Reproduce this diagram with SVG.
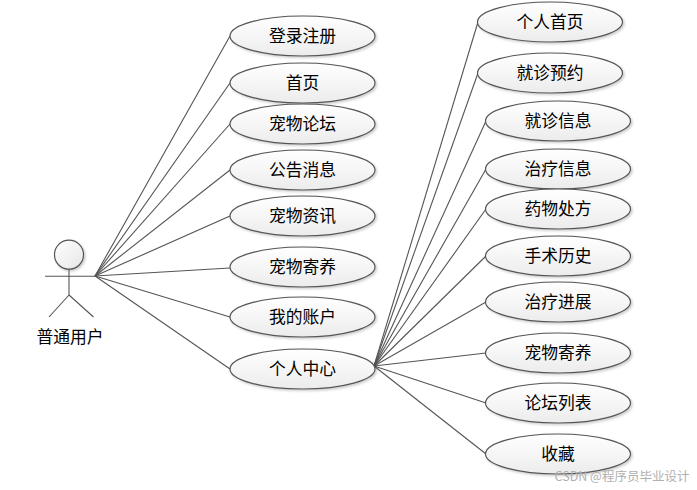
<svg xmlns="http://www.w3.org/2000/svg" width="697" height="490" viewBox="0 0 697 490">
<defs>
<linearGradient id="g" x1="0" y1="0" x2="0" y2="1"><stop offset="0" stop-color="#ffffff"/><stop offset="1" stop-color="#ececec"/></linearGradient>
<linearGradient id="h" x1="0" y1="0" x2="1" y2="1"><stop offset="0" stop-color="#ffffff"/><stop offset="1" stop-color="#e6e6e6"/></linearGradient>
<filter id="sh" x="-10%" y="-20%" width="120%" height="150%"><feDropShadow dx="1.500" dy="1.500" stdDeviation="1" flood-color="#000" flood-opacity="0.200"/></filter>
</defs>
<style>
text{font-family:"Noto Sans CJK SC","Liberation Sans",sans-serif;font-size:16.800px;fill:#000;text-anchor:middle}
.u ellipse{fill:url(#g);stroke:#555;stroke-width:1.2;filter:url(#sh)}
#connectors line,.a line{stroke:#555;stroke-width:1.1}
.wm{font-size:12.500px;fill:#b0b0b0}
</style>
<rect width="697" height="490" fill="#fff"/>
<g id="connectors">
<line x1="95" y1="276" x2="230" y2="36"/>
<line x1="95" y1="276" x2="230" y2="83"/>
<line x1="95" y1="276" x2="230" y2="124"/>
<line x1="95" y1="276" x2="230" y2="170"/>
<line x1="95" y1="276" x2="230" y2="216"/>
<line x1="95" y1="276" x2="230" y2="268"/>
<line x1="95" y1="276" x2="230" y2="317"/>
<line x1="95" y1="276" x2="230" y2="369"/>
<line x1="374" y1="366" x2="478" y2="22"/>
<line x1="374" y1="366" x2="478" y2="73"/>
<line x1="374" y1="366" x2="486" y2="121"/>
<line x1="374" y1="366" x2="486" y2="169"/>
<line x1="374" y1="366" x2="486" y2="209"/>
<line x1="374" y1="366" x2="486" y2="256"/>
<line x1="374" y1="366" x2="486" y2="302"/>
<line x1="374" y1="366" x2="486" y2="353"/>
<line x1="374" y1="366" x2="486" y2="403"/>
<line x1="374" y1="366" x2="486" y2="454"/>
</g>
<g id="actor" class="a">
<circle cx="69" cy="254.700" r="14.500" fill="url(#h)" stroke="#555" stroke-width="1.2" filter="url(#sh)"/>
<line x1="69" y1="269.500" x2="69" y2="295"/>
<line x1="45" y1="276.300" x2="97" y2="276.300"/>
<line x1="69" y1="295" x2="49" y2="317"/>
<line x1="69" y1="295" x2="93.500" y2="317"/>
<text x="70" y="343">普通用户</text>
</g>
<g id="u1" class="u"><ellipse cx="302.500" cy="36" rx="72.500" ry="20"/><text x="302.500" y="42">登录注册</text></g>
<g id="u2" class="u"><ellipse cx="302.500" cy="83" rx="72.500" ry="20"/><text x="302.500" y="89">首页</text></g>
<g id="u3" class="u"><ellipse cx="302.500" cy="124" rx="72.500" ry="20"/><text x="302.500" y="130">宠物论坛</text></g>
<g id="u4" class="u"><ellipse cx="302.500" cy="170" rx="72.500" ry="20"/><text x="302.500" y="176">公告消息</text></g>
<g id="u5" class="u"><ellipse cx="302.500" cy="216" rx="72.500" ry="20"/><text x="302.500" y="222">宠物资讯</text></g>
<g id="u6" class="u"><ellipse cx="302.500" cy="267" rx="72.500" ry="20"/><text x="302.500" y="273">宠物寄养</text></g>
<g id="u7" class="u"><ellipse cx="302.500" cy="317" rx="72.500" ry="20"/><text x="302.500" y="323">我的账户</text></g>
<g id="u8" class="u"><ellipse cx="302.500" cy="369" rx="72.500" ry="20"/><text x="302.500" y="375">个人中心</text></g>
<g id="r1" class="u"><ellipse cx="550" cy="22" rx="72.500" ry="20"/><text x="550" y="28">个人首页</text></g>
<g id="r2" class="u"><ellipse cx="550" cy="73" rx="72.500" ry="20"/><text x="550" y="79">就诊预约</text></g>
<g id="r3" class="u"><ellipse cx="558" cy="121" rx="72.500" ry="20"/><text x="558" y="127">就诊信息</text></g>
<g id="r4" class="u"><ellipse cx="558" cy="169" rx="72.500" ry="20"/><text x="558" y="175">治疗信息</text></g>
<g id="r5" class="u"><ellipse cx="558" cy="209" rx="72.500" ry="20"/><text x="558" y="215">药物处方</text></g>
<g id="r6" class="u"><ellipse cx="558" cy="256" rx="72.500" ry="20"/><text x="558" y="262">手术历史</text></g>
<g id="r7" class="u"><ellipse cx="558" cy="302" rx="72.500" ry="20"/><text x="558" y="308">治疗进展</text></g>
<g id="r8" class="u"><ellipse cx="558" cy="353" rx="72.500" ry="20"/><text x="558" y="359">宠物寄养</text></g>
<g id="r9" class="u"><ellipse cx="558" cy="403" rx="72.500" ry="20"/><text x="558" y="409">论坛列表</text></g>
<g id="r10" class="u"><ellipse cx="558" cy="454" rx="72.500" ry="20"/><text x="558" y="460">收藏</text></g>
<text class="wm" x="622" y="481">CSDN @程序员毕业设计</text>
</svg>
